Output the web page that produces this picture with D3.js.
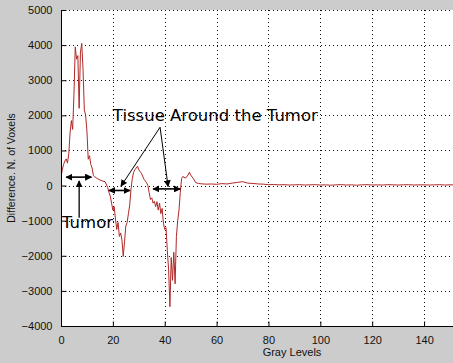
<!DOCTYPE html>
<html><head><meta charset="utf-8">
<script src="https://cdn.jsdelivr.net/npm/d3@7"></script>
<style>
html,body{margin:0;padding:0;background:#cccccc;}
svg{display:block;}
</style></head>
<body>
<script>
const grayLevels = [0,0.5,1,1.5,2,2.5,3,3.5,4,4.5,5,5.5,6,6.5,7,7.5,8,8.5,9,9.5,10,10.5,11,11.5,12,12.5,13,14,15,16,17,18,18.5,19,19.5,20,20.5,21,21.5,22,22.5,23,23.5,24,24.5,25,25.5,26,26.5,27,27.5,28,28.5,29,29.5,30,30.5,31,32,33,33.5,34,34.5,35,35.5,36,36.5,37,37.5,38,38.5,39,39.5,40,40.5,41,41.5,42,42.5,43,43.5,44,44.5,45,45.5,46,46.5,47,48,49,49.5,50,51,52,53,54,56,58,60,62,64,66,68,70,72,74,76,78,80,82,84,86,88,90,92,94,96,98,100,102,104,106,108,110,112,114,116,118,120,122,124,126,128,130,132,134,136,138,140,142,144,146,148,150,152];
const difference = [250,450,600,700,760,640,900,1500,1850,1600,2600,3950,3600,3700,2200,3800,4050,3300,2150,2000,1550,750,850,600,500,280,250,200,160,130,110,-50,-200,-300,-500,-700,-600,-950,-1250,-1050,-1450,-1350,-1550,-2020,-1600,-1150,-1050,-800,-550,-100,200,380,450,500,550,450,400,350,180,80,0,-200,-400,-350,-500,-450,-600,-460,-700,-500,-800,-650,-1070,-1250,-1200,-1850,-2400,-3450,-2050,-2700,-1900,-2800,-1450,-1000,-700,-200,200,260,210,300,380,300,200,80,60,50,40,45,35,55,45,70,90,110,70,60,45,40,25,30,20,25,15,20,25,15,20,25,15,20,10,20,25,15,20,10,20,25,15,20,15,25,20,15,20,25,15,20,20,15,20,25,15,20,20];
const xTicks = [0,20,40,60,80,100,120,140];
const yTicks = [-4000,-3000,-2000,-1000,0,1000,2000,3000,4000,5000];
const xLabel = "Gray Levels";
const yLabel = "Difference. N. of Voxels";
// annotations in data units
const tumorArrow = {x1:2, x2:11.7, y:240};
const tumorPointer = {x:7, yFrom:-920, yTo:130};
const tumorText = {text:"Tumor", x:0.4, y:-1220};
const tissueArrows = [{x1:18.5, x2:26.6, y:-140},{x1:35.5, x2:46, y:-95}];
const tissuePointerFrom = {x:38.2, y:1660};
const tissuePointerTo = [{x:23.1, y:-20},{x:41.3, y:-30}];
const tissueText = {text:"Tissue Around the Tumor", x:20, y:1840};

const W=453,H=363;
const L=61,R=450,T=10,B=326;
const svg=d3.select("body").append("svg").attr("width",W).attr("height",H);
svg.append("rect").attr("width",W).attr("height",H).attr("fill","#cccccc");
svg.append("rect").attr("x",L).attr("y",T).attr("width",W-L).attr("height",B-T).attr("fill","#ffffff");
svg.append("defs").append("clipPath").attr("id","plotclip").append("rect")
  .attr("x",L).attr("y",T).attr("width",W-L).attr("height",B-T);

const x=d3.scaleLinear().domain([0,150]).range([L,R]);
const y=d3.scaleLinear().domain([-4000,5000]).range([B,T]);

// grid
const grid=svg.append("g").attr("stroke","#111").attr("stroke-width",1).attr("stroke-dasharray","1,3");
grid.selectAll(".gx").data(xTicks.filter(d=>d>0)).join("line")
  .attr("x1",d=>Math.round(x(d))+0.5).attr("x2",d=>Math.round(x(d))+0.5).attr("y1",T).attr("y2",B);
grid.selectAll(".gy").data(yTicks.filter(d=>d>-4000)).join("line")
  .attr("y1",d=>Math.round(y(d))+0.5).attr("y2",d=>Math.round(y(d))+0.5).attr("x1",L).attr("x2",W);

// data line
const line=d3.line().x((d,i)=>x(grayLevels[i])).y(d=>y(d));
svg.append("path").datum(difference).attr("d",line).attr("fill","none").attr("clip-path","url(#plotclip)")
  .attr("stroke","#b02828").attr("stroke-width",1).attr("stroke-linejoin","round");

// axes
const fontFam="'Liberation Sans', Arial, sans-serif";
const xAxis=d3.axisBottom(x).tickValues(xTicks).tickSizeInner(-5).tickSizeOuter(0).tickPadding(10).tickFormat(d3.format("d"));
const yAxis=d3.axisLeft(y).tickValues(yTicks).tickSizeInner(-5).tickSizeOuter(0).tickPadding(9).tickFormat(d3.format("d"));
const gx=svg.append("g").attr("transform",`translate(0,${B+0.5})`).call(xAxis);
const gy=svg.append("g").attr("transform",`translate(${L+0.5},0)`).call(yAxis);
[gx,gy].forEach(g=>{
  g.select(".domain").attr("stroke","#000");
  g.selectAll(".tick line").attr("stroke","#000");
  g.selectAll("text").attr("fill","#111").style("font-family",fontFam).style("font-size","11px");
});
gx.select(".domain").attr("d",`M${L},0H${W}`);
gy.select(".domain").attr("d",`M0,${T}V${B}`);

svg.append("text").attr("x",292).attr("y",356).attr("text-anchor","middle")
  .style("font-family",fontFam).style("font-size","11px").attr("fill","#111").text(xLabel);
svg.append("text").attr("transform",`translate(15,${(T+B)/2}) rotate(-90)`).attr("text-anchor","middle")
  .style("font-family",fontFam).style("font-size","10.5px").attr("fill","#111").text(yLabel);

// arrowheads
const defs=svg.append("defs");
defs.append("marker").attr("id","ah").attr("viewBox","0 0 10 10").attr("refX",9).attr("refY",5)
  .attr("markerWidth",7).attr("markerHeight",7).attr("orient","auto-start-reverse").attr("markerUnits","userSpaceOnUse")
  .append("path").attr("d","M0,0L10,5L0,10z").attr("fill","#000");

const ann=svg.append("g").attr("stroke","#000").attr("stroke-width",1.3).attr("fill","none");
function dbl(a){
  ann.append("line").attr("x1",x(a.x1)).attr("x2",x(a.x2)).attr("y1",y(a.y)).attr("y2",y(a.y))
    .attr("marker-start","url(#ah)").attr("marker-end","url(#ah)").attr("stroke-width",1.6);
}
dbl(tumorArrow);
tissueArrows.forEach(dbl);
ann.append("line").attr("x1",x(tumorPointer.x)).attr("x2",x(tumorPointer.x))
  .attr("y1",y(tumorPointer.yFrom)).attr("y2",y(tumorPointer.yTo)).attr("marker-end","url(#ah)");
tissuePointerTo.forEach(p=>{
  ann.append("line").attr("x1",x(tissuePointerFrom.x)).attr("y1",y(tissuePointerFrom.y))
    .attr("x2",x(p.x)).attr("y2",y(p.y)).attr("marker-end","url(#ah)").attr("stroke-width",1);
});
const annFont="'DejaVu Sans', Verdana, sans-serif";
svg.append("text").attr("x",x(tumorText.x)).attr("y",y(tumorText.y)).style("font-family",annFont)
  .style("font-size","16.5px").attr("fill","#000").text(tumorText.text);
svg.append("text").attr("x",x(tissueText.x)).attr("y",y(tissueText.y)).style("font-family",annFont)
  .style("font-size","16.5px").attr("fill","#000").text(tissueText.text);
</script>
</body></html>
